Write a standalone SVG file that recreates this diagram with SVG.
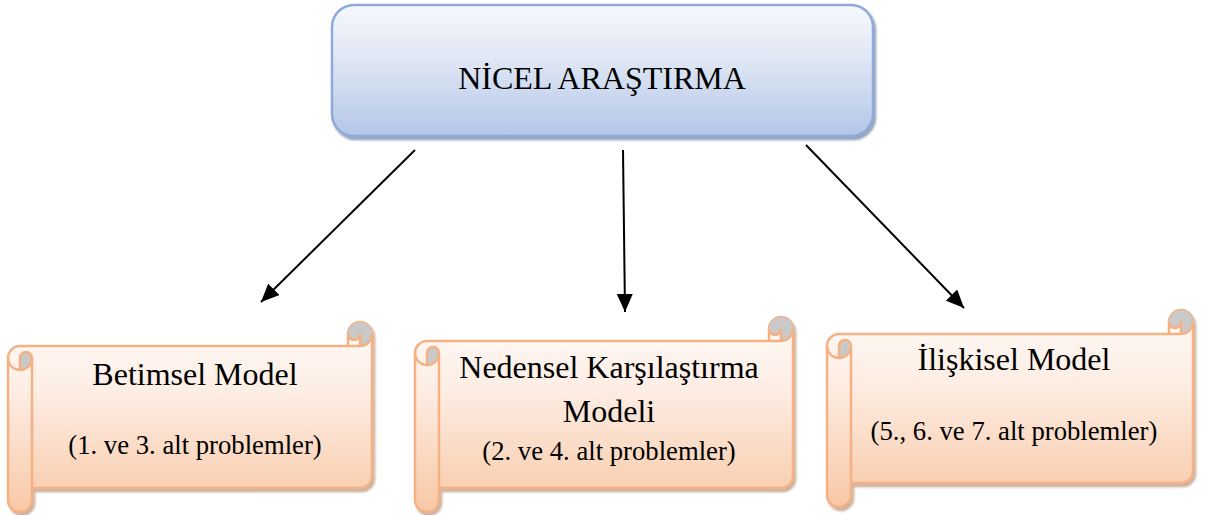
<svg xmlns="http://www.w3.org/2000/svg" width="1208" height="515" viewBox="0 0 1208 515">
  <defs>
    <style>
      .title { font-family: "Liberation Serif", "Times New Roman", serif; font-size: 32px; fill: #000; text-anchor: middle; }
      .sub { font-family: "Liberation Serif", "Times New Roman", serif; font-size: 26.7px; fill: #000; text-anchor: middle; }
      .scroll { fill: url(#peach); stroke: #f4b183; stroke-width: 2.5; stroke-linejoin: round; }
      .scroll-line { fill: none; stroke: #f4b183; stroke-width: 2.5; stroke-linejoin: round; }
      .curl { fill: #c9c9c9; stroke: none; }
      .edge { stroke: #000; stroke-width: 2; fill: none; marker-end: url(#head); }
    </style>
    <linearGradient id="blue" x1="0" y1="0" x2="0" y2="1">
      <stop offset="0" stop-color="#f6f8fc"/>
      <stop offset="0.45" stop-color="#dde5f4"/>
      <stop offset="1" stop-color="#b3c6e7"/>
    </linearGradient>
    <linearGradient id="peach" x1="0" y1="0" x2="0" y2="1">
      <stop offset="0" stop-color="#fffaf7"/>
      <stop offset="0.35" stop-color="#fdeee5"/>
      <stop offset="1" stop-color="#f8c8a6"/>
    </linearGradient>
    <filter id="shadowBlue" x="-5%" y="-10%" width="115%" height="130%">
      <feDropShadow dx="2" dy="3" stdDeviation="1" flood-color="#3f5680" flood-opacity="0.55"/>
    </filter>
    <filter id="shadowPeach" x="-5%" y="-10%" width="115%" height="130%">
      <feDropShadow dx="2" dy="3" stdDeviation="1" flood-color="#8a4f2a" flood-opacity="0.45"/>
    </filter>
    <marker id="head" markerUnits="userSpaceOnUse" markerWidth="18" markerHeight="16" refX="18" refY="8" orient="auto">
      <path d="M0,0 L18,8 L0,16 Z" fill="#000"/>
    </marker>
  </defs>

  <!-- root node -->
  <g id="nicel-arastirma">
    <rect x="332" y="5" width="541" height="131" rx="22" ry="22" fill="url(#blue)" stroke="#8eaadb" stroke-width="2.5" filter="url(#shadowBlue)"/>
    <text class="title" x="602" y="89">NİCEL ARAŞTIRMA</text>
  </g>

  <!-- connectors -->
  <g id="connectors">
    <line class="edge" x1="415" y1="150" x2="261" y2="302"/>
    <line class="edge" x1="623" y1="150" x2="625" y2="312"/>
    <line class="edge" x1="806" y1="145" x2="964" y2="308"/>
  </g>

  <!-- scroll 1 -->
  <g id="betimsel-model">
    <g transform="translate(8,322)">
      <path class="scroll" filter="url(#shadowPeach)" d="M0,36 A12,12 0 0 1 12,24 L340,24 L340,12 A12,12 0 0 1 364,12 L364,154 A12,12 0 0 1 352,166 L24,166 L24,178 A12,12 0 0 1 0,178 Z"/>
      <path class="curl" d="M12,48 A12,12 0 0 0 24,36 A6,6 0 0 0 12,36 Z M352,24 A12,12 0 1 0 340,12 A6,6 0 0 0 352,12 Z"/>
      <path class="scroll-line" d="M340,24 L352,24 A12,12 0 0 0 364,12 M352,24 L352,12 A6,6 0 0 1 340,12 M12,48 L12,36 A6,6 0 0 1 24,36 A12,12 0 0 1 0,36 M24,36 L24,166"/>
    </g>
    <text class="title" x="195" y="385">Betimsel Model</text>
    <text class="sub" x="195" y="454">(1. ve 3. alt problemler)</text>
  </g>

  <!-- scroll 2 -->
  <g id="nedensel-karsilastirma">
    <g transform="translate(415,317)">
      <path class="scroll" filter="url(#shadowPeach)" d="M0,36 A12,12 0 0 1 12,24 L354,24 L354,12 A12,12 0 0 1 378,12 L378,159 A12,12 0 0 1 366,171 L24,171 L24,183 A12,12 0 0 1 0,183 Z"/>
      <path class="curl" d="M12,48 A12,12 0 0 0 24,36 A6,6 0 0 0 12,36 Z M366,24 A12,12 0 1 0 354,12 A6,6 0 0 0 366,12 Z"/>
      <path class="scroll-line" d="M354,24 L366,24 A12,12 0 0 0 378,12 M366,24 L366,12 A6,6 0 0 1 354,12 M12,48 L12,36 A6,6 0 0 1 24,36 A12,12 0 0 1 0,36 M24,36 L24,171"/>
    </g>
    <text class="title" x="609" y="378">Nedensel Karşılaştırma</text>
    <text class="title" x="609" y="422">Modeli</text>
    <text class="sub" x="609" y="460">(2. ve 4. alt problemler)</text>
  </g>

  <!-- scroll 3 -->
  <g id="iliskisel-model">
    <g transform="translate(827,310)">
      <path class="scroll" filter="url(#shadowPeach)" d="M0,36 A12,12 0 0 1 12,24 L342,24 L342,12 A12,12 0 0 1 366,12 L366,161 A12,12 0 0 1 354,173 L24,173 L24,185 A12,12 0 0 1 0,185 Z"/>
      <path class="curl" d="M12,48 A12,12 0 0 0 24,36 A6,6 0 0 0 12,36 Z M354,24 A12,12 0 1 0 342,12 A6,6 0 0 0 354,12 Z"/>
      <path class="scroll-line" d="M342,24 L354,24 A12,12 0 0 0 366,12 M354,24 L354,12 A6,6 0 0 1 342,12 M12,48 L12,36 A6,6 0 0 1 24,36 A12,12 0 0 1 0,36 M24,36 L24,173"/>
    </g>
    <text class="title" x="1014" y="370">İlişkisel Model</text>
    <text class="sub" x="1014" y="440">(5., 6. ve 7. alt problemler)</text>
  </g>
</svg>
